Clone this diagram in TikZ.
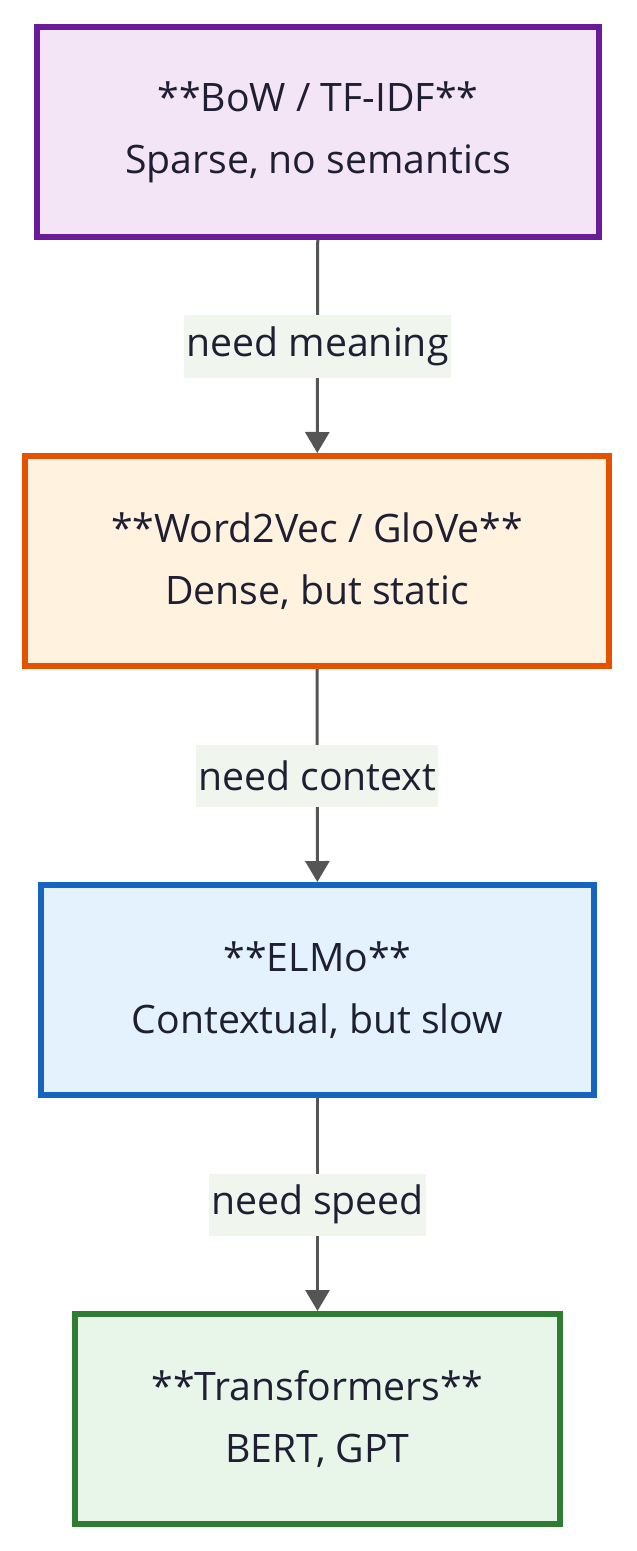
\documentclass[tikz,border=0pt]{standalone}
\usepackage{fontspec}
\setmainfont{Open Sans}
\usetikzlibrary{positioning,arrows.meta}
\definecolor{inkc}{RGB}{31,31,51}
\definecolor{arrowc}{RGB}{85,85,85}
\definecolor{tagc}{RGB}{240,246,238}
\tikzstyle{stage} = [rectangle, draw, line width=4.5pt, align=center,
    minimum height=157.5pt, text=inkc, font=\fontsize{29.4}{46.5}\selectfont]
\tikzstyle{line} = [draw, line width=2.25pt, arrowc, -{Triangle[length=15.75pt,width=18pt]}]
\tikzstyle{tag} = [fill=tagc, text=inkc, inner xsep=1.5pt, inner ysep=0pt,
    minimum height=46.5pt, font=\fontsize{29.4}{34}\selectfont]

\begin{document}
\begin{tikzpicture}[node distance = 321.75pt]
    \useasboundingbox (0,0) rectangle (477pt,-1163.25pt);
    % Place nodes
    \node [stage, draw={rgb,255:red,106;green,27;blue,154}, fill={rgb,255:red,243;green,229;blue,245},
        minimum width=421.5pt] (bow) at (238.5pt,-99pt) {**BoW / TF-IDF**\\Sparse, no semantics};
    \node [stage, below of=bow, xshift=-0.75pt, draw={rgb,255:red,230;green,81;blue,0},
        fill={rgb,255:red,255;green,243;blue,224}, minimum width=438pt] (w2v) {**Word2Vec / GloVe**\\Dense, but static};
    \node [stage, below of=w2v, xshift=0.375pt, draw={rgb,255:red,21;green,101;blue,192},
        fill={rgb,255:red,227;green,242;blue,253}, minimum width=414.75pt] (elmo) {**ELMo**\\Contextual, but slow};
    \node [stage, below of=elmo, draw={rgb,255:red,46;green,125;blue,50},
        fill={rgb,255:red,232;green,245;blue,233}, minimum width=363.75pt] (trans) {**Transformers**\\BERT, GPT};
    % Draw edges
    \path [line] (bow) -- node [tag] {need meaning} (w2v);
    \path [line] (w2v) -- node [tag] {need context} (elmo);
    \path [line] (elmo) -- node [tag] {need speed} (trans);
\end{tikzpicture}
\end{document}
